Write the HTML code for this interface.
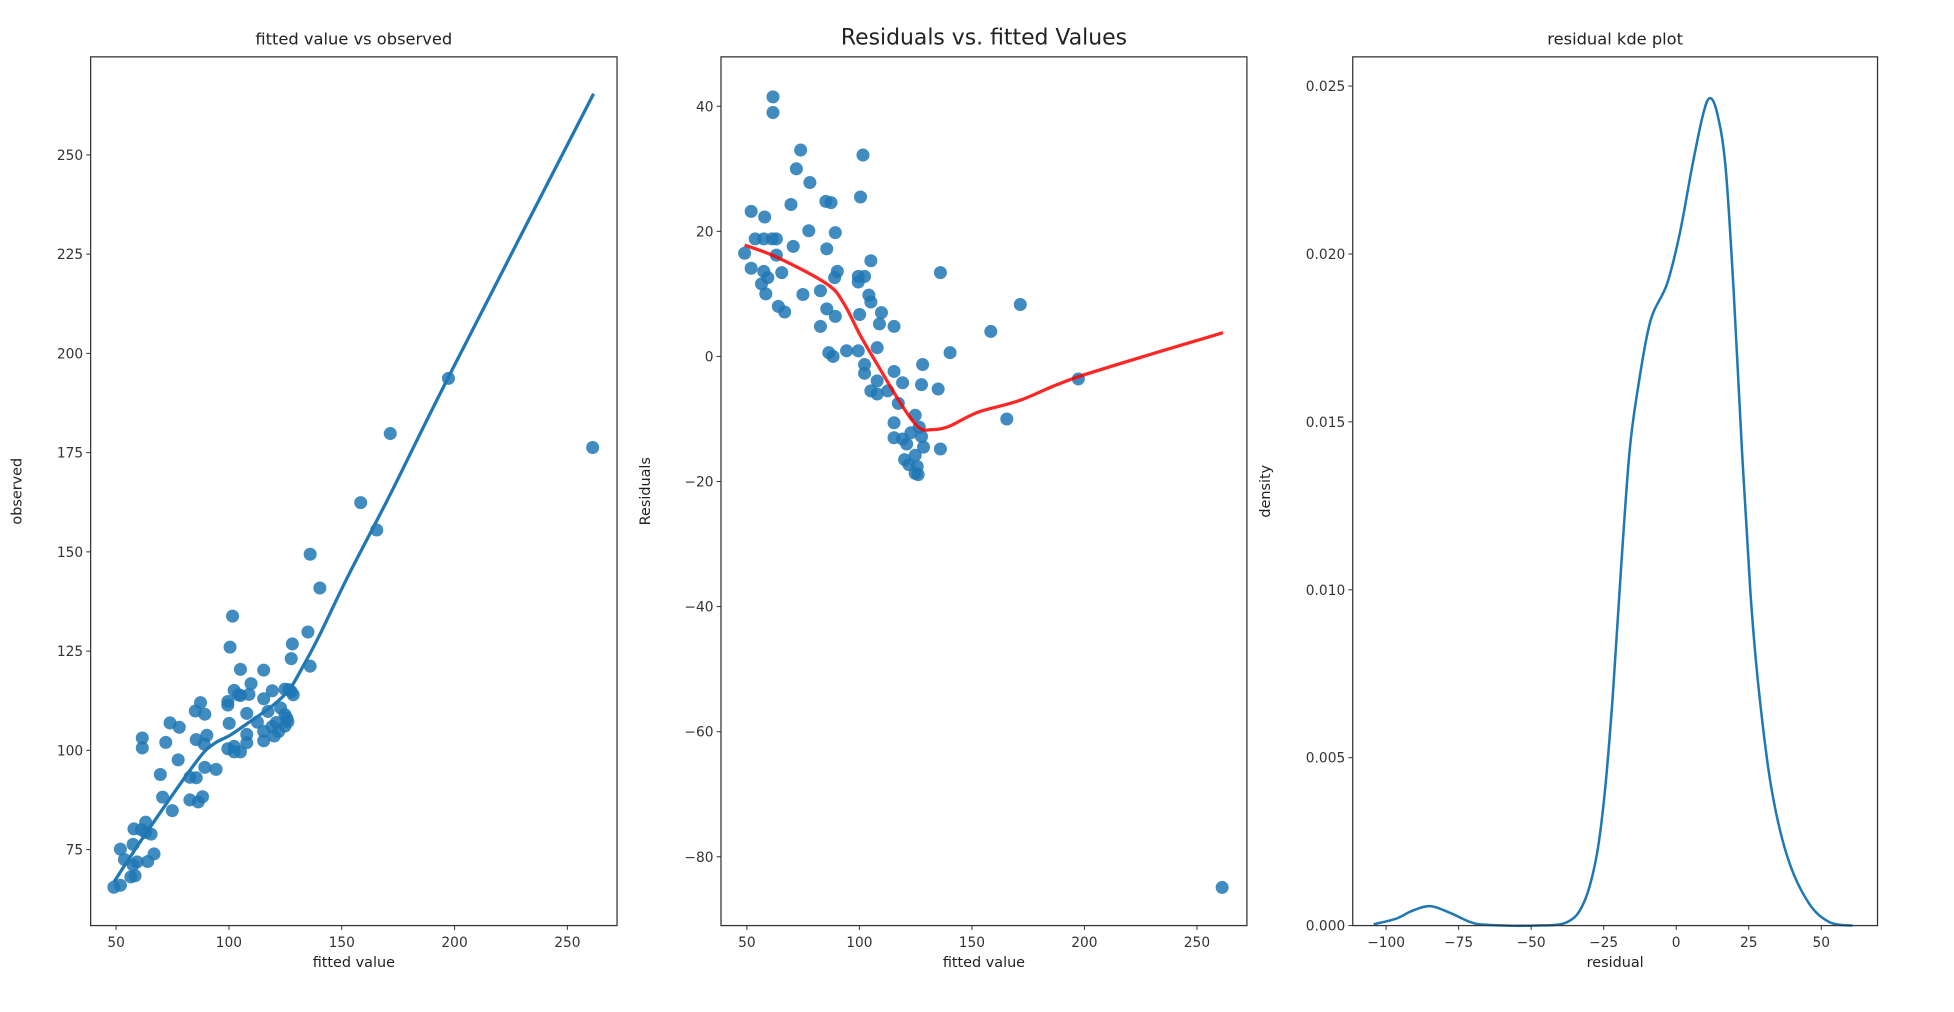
<!DOCTYPE html>
<html><head><meta charset="utf-8">
<style>
html,body{margin:0;padding:0;background:#fff;}
svg{display:block;font-family:"DejaVu Sans","Liberation Sans",sans-serif;}
</style></head>
<body>
<svg id="fig" width="1954" height="1012" viewBox="0 0 1560 808" xmlns="http://www.w3.org/2000/svg"></svg>
<script>
// ---- data ----
const fittedValues = [61.6,61.6,73.9,72,78,101.6,100.5,51.9,57.9,69.6,85.1,87.4,77.5,89.3,53.7,57.5,61.2,63.1,70.6,49,63.1,85.5,51.9,105.1,65.5,57.5,59.3,90.2,136,56.5,99.5,102.3,99.5,82.7,58.4,74.9,89,104.2,105.1,64,66.8,85.5,109.8,89.3,100.1,108.9,171.5,115.4,82.7,158.4,86.4,88.3,94.3,99.5,107.9,140.3,128.1,102.3,102.3,115.4,119.2,127.6,107.9,135,105.1,107.9,112.6,117.3,124.8,115.4,115.4,122.9,121,127.6,128.5,136,120.1,122,124.8,125.7,124.8,126.1,165.5,197.3,261.2,119.2,126.6];
const residualValues = [41.5,39,33,30,27.8,32.2,25.5,23.2,22.3,24.3,24.8,24.6,20.1,19.8,18.8,18.8,18.8,18.8,17.6,16.5,16.2,17.2,14.1,15.3,13.4,13.6,12.6,13.6,13.4,11.6,12.8,12.8,11.9,10.5,10,9.9,12.6,9.8,8.7,8,7.1,7.6,7,6.4,6.7,5.2,8.3,4.8,4.8,4,0.6,0,0.9,0.9,1.4,0.6,-1.3,-1.3,-2.7,-2.4,-4.2,-4.5,-3.9,-5.2,-5.5,-6,-5.5,-7.5,-9.4,-10.6,-13,-12.2,-14,-12.8,-14.5,-14.8,-16.5,-17.3,-15.8,-17.6,-18.7,-18.9,-10,-3.6,-84.9,-13.2,-11.3];
const lowessX = [49,63.1,85.5,93,100.5,108,119.2,126.6,132.2,139.7,152.8,171.5,197.7,261.6];
const lowessResid = [17.8,15.9,11.6,8.5,3.3,-1.3,-8,-11.4,-11.7,-11.2,-8.9,-7,-3.2,3.8];
const kdeX = [-104.3,-96.7,-91,-84.8,-78,-70.8,-65,-49.2,-37.7,-31.9,-27.6,-24.7,-21.9,-19,-16.1,-13.2,-8.9,-3.2,1.2,5.5,9.1,11.5,14.1,17,19.8,22.7,25.6,28.5,32.8,38.5,45.7,52.9,60.8];
const kdeDensity = [0.00004,0.0002,0.00044,0.00058,0.00038,0.0001,0.00002,0,0.0001,0.00067,0.002,0.0039,0.0068,0.01066,0.0141,0.016,0.018,0.0191,0.0206,0.0226,0.0241,0.02464,0.0242,0.0226,0.0189,0.0141,0.0099,0.007,0.0041,0.002,0.00067,0.0001,0];
const xTicks1 = [50,100,150,200,250];
const yTicks1 = [75,100,125,150,175,200,225,250];
const xTicks2 = [50,100,150,200,250];
const yTicks2 = [40,20,0,-20,-40,-60,-80];
const xTicks3 = [-100,-75,-50,-25,0,25,50];
const yTicks3 = [0,0.005,0.010,0.015,0.020,0.025];
const yTickLabels3 = ["0.000","0.005","0.010","0.015","0.020","0.025"];

const NS="http://www.w3.org/2000/svg";
const fig=document.getElementById('fig');
function mk(tag,attrs,parent){const e=document.createElementNS(NS,tag);for(const k in attrs)e.setAttribute(k,attrs[k]);(parent||fig).appendChild(e);return e;}
function fmtMinus(v){return String(v).replace('-','\u2212');}

function makeAxes(name,L,R,T,B,x0,x1,y0,y1){
  const g=mk('g',{});
  
  
  const sx=v=>L+(v-x0)/(x1-x0)*(R-L);
  const sy=v=>B-(v-y0)/(y1-y0)*(B-T);
  return {g,sx,sy,L,R,T,B};
}
function frame(ax){
  const r=mk('rect',{x:ax.L,y:ax.T,width:ax.R-ax.L,height:ax.B-ax.T,fill:'none',stroke:'#333','stroke-width':1},ax.g);
  
  
}
function xTicks(ax,ticks,labels){
  ticks.forEach((t,i)=>{
    const x=ax.sx(t);
    mk('line',{x1:x,x2:x,y1:ax.B,y2:ax.B+3.5,stroke:'#333','stroke-width':0.8},ax.g);
    const tx=mk('text',{x:x,y:ax.B+17,'text-anchor':'middle','font-size':11,fill:'#333'},ax.g);
    
    
    tx.textContent=labels?labels[i]:fmtMinus(t);
  });
}
function yTicks(ax,ticks,labels){
  ticks.forEach((t,i)=>{
    const y=ax.sy(t);
    mk('line',{x1:ax.L-3.5,x2:ax.L,y1:y,y2:y,stroke:'#333','stroke-width':0.8},ax.g);
    const tx=mk('text',{x:ax.L-6,y:y+4,'text-anchor':'end','font-size':11,fill:'#333'},ax.g);
    
    
    tx.textContent=labels?labels[i]:fmtMinus(t);
  });
}
function labels(ax,title,tsize,xl,yl,ylx){
  const t=mk('text',{x:(ax.L+ax.R)/2,y:ax.T-10,'text-anchor':'middle','font-size':tsize,fill:'#222'},ax.g);
  
  
  t.textContent=title;
  const x=mk('text',{x:(ax.L+ax.R)/2,y:ax.B+33,'text-anchor':'middle','font-size':11.5,fill:'#222'},ax.g);
  
  
  x.textContent=xl;
  const cy=(ax.T+ax.B)/2;
  const y=mk('text',{x:ylx,y:cy,'text-anchor':'middle','font-size':11.5,fill:'#222',transform:`rotate(-90 ${ylx} ${cy})`},ax.g);
  
  
  y.textContent=yl;
}
function smoothPath(pts){
  let d=`M${pts[0][0]},${pts[0][1]}`;
  for(let i=0;i<pts.length-1;i++){
    const p0=pts[i-1]||pts[i],p1=pts[i],p2=pts[i+1],p3=pts[i+2]||p2;
    const c1=[p1[0]+(p2[0]-p0[0])/6,p1[1]+(p2[1]-p0[1])/6];
    const c2=[p2[0]-(p3[0]-p1[0])/6,p2[1]-(p3[1]-p1[1])/6];
    d+=` C${c1[0]},${c1[1]} ${c2[0]},${c2[1]} ${p2[0]},${p2[1]}`;
  }
  return d;
}

// ---- Panel 1 ----
const a1=makeAxes('fitted-vs-observed-chart',72.3,492.6,45.4,739,38.7,272,55.85,274.7);
fittedValues.forEach((f,i)=>{
  const c=mk('circle',{cx:a1.sx(f),cy:a1.sy(f+residualValues[i]),r:5.2,fill:'#1f77b4','fill-opacity':0.85},a1.g);
  
  
});
const l1=mk('path',{d:smoothPath(lowessX.map((x,i)=>[a1.sx(x),a1.sy(x+lowessResid[i])])),fill:'none',stroke:'#1f77b4','stroke-width':2.6},a1.g);


frame(a1);xTicks(a1,xTicks1);yTicks(a1,yTicks1);
labels(a1,'fitted value vs observed',13,'fitted value','observed',17);

// ---- Panel 2 ----
const a2=makeAxes('residuals-vs-fitted-chart',575.6,995.5,45.4,739,38.5,272.2,-91,47.9);
fittedValues.forEach((f,i)=>{
  const c=mk('circle',{cx:a2.sx(f),cy:a2.sy(residualValues[i]),r:5.2,fill:'#1f77b4','fill-opacity':0.85},a2.g);
  
  
});
const l2=mk('path',{d:smoothPath(lowessX.map((x,i)=>[a2.sx(x),a2.sy(lowessResid[i])])),fill:'none',stroke:'#ff0000','stroke-opacity':0.85,'stroke-width':2.6},a2.g);


frame(a2);xTicks(a2,xTicks2);yTicks(a2,yTicks2);
labels(a2,'Residuals vs. fitted Values',17.5,'fitted value','Residuals',519);

// ---- Panel 3 ----
const a3=makeAxes('residual-kde-chart',1080,1499,45.4,739,-111.5,69.4,0,0.02587);
const l3=mk('path',{d:smoothPath(kdeX.map((x,i)=>[a3.sx(x),a3.sy(kdeDensity[i])])),fill:'none',stroke:'#1f77b4','stroke-width':2},a3.g);


frame(a3);xTicks(a3,xTicks3);yTicks(a3,yTicks3,yTickLabels3);
labels(a3,'residual kde plot',13,'residual','density',1014);
</script>
</body></html>
